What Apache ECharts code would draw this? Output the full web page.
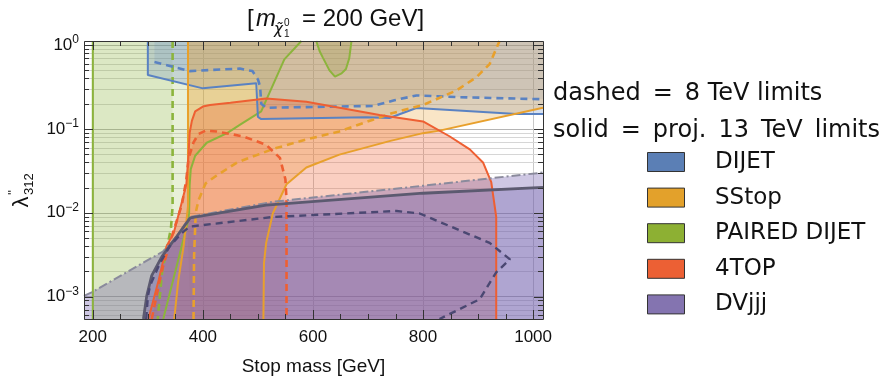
<!DOCTYPE html>
<html><head><meta charset="utf-8">
<script src="https://cdn.jsdelivr.net/npm/echarts@6/dist/echarts.min.js"></script>
<style>html,body{margin:0;padding:0;background:#fff}#c{width:886px;height:381px}</style>
</head><body><div id="c"></div>
<script>
// ---- axis ranges & ticks ----
const X_MIN = 184, X_MAX = 1018, Y_MIN = 5.4e-4, Y_MAX = 1.12;
const xMajorTicks = [200, 400, 600, 800, 1000];
const xMinorTicks = [250, 300, 350, 450, 500, 550, 650, 700, 750, 850, 900, 950];
const yMajorTicks = [1e-3, 1e-2, 1e-1, 1];
const yMinorMult = [2, 3, 4, 5, 6, 7, 8, 9];
const yMinorDecades = [1e-4, 1e-3, 1e-2, 1e-1];
const legendNames = ['DIJET', 'SStop', 'PAIRED DIJET', '4TOP', 'DVjjj'];

// ---- region boundaries (stop mass [GeV], lambda'') ----
const paired13Right = [[579,1.12],[548,0.676],[506,0.162],[467,0.112],[444,0.0891],[407,0.0684],[386,0.0479],[378,0.0331],[376,0.0214],[375,0.01],[373,0.0079],[350,0.002],[328,5.4e-4]];
const paired13Lobe = [[606,1.12],[612,0.85],[618,0.71],[630,0.5],[640,0.42],[652,0.46],[660,0.52],[666,0.7],[670,1.12]];
const paired8Right = [[345,1.12],[345,0.012],[342,0.0065],[334,0.0036],[326,0.002],[318,5.4e-4]];
const pairedLeft = [[200,5.4e-4],[200,1.12]];

const dijet13 = [[300,1.12],[300,0.44],[400,0.305],[497,0.352],[500,0.35],[500,0.139],[506,0.131],[697,0.138],[739,0.135],[788,0.178],[970,0.151],[1018,0.151]];
const dijet8 = [[312,0.63],[376,0.49],[467,0.525],[490,0.49],[500,0.39],[504,0.32],[506,0.2],[515,0.179],[709,0.188],[748,0.22],[788,0.251],[860,0.24],[1018,0.226]];

const sstop13Left = [[373,1.12],[373,0.012],[365,0.004],[355,0.0015],[348,5.4e-4]];
const sstop13Right = [[510,5.4e-4],[511,0.0025],[515,0.00437],[527,0.0098],[552,0.0219],[588,0.0347],[648,0.0494],[739,0.0716],[800,0.0891],[830,0.0955],[1018,0.179]];
const sstop8Left = [[371,1.12],[371,0.01],[378,5.4e-4]];
const sstop8Right = [[383,5.4e-4],[384,0.003],[387,0.01],[392,0.0141],[405,0.0224],[425,0.0278],[462,0.0398],[527,0.0575],[588,0.075],[648,0.0933],[709,0.129],[745,0.155],[800,0.193],[861,0.288],[897,0.414],[921,0.593],[939,1.12]];

const top13 = [[301,5.4e-4],[320,0.0016],[334,0.004],[347,0.00575],[358,0.0107],[370,0.0219],[374,0.05],[376,0.09],[380,0.125],[386,0.162],[400,0.185],[413,0.193],[450,0.205],[515,0.231],[588,0.211],[721,0.147],[800,0.123],[848,0.0818],[885,0.0571],[909,0.0398],[924,0.0232],[933,0.0089],[933,5.4e-4]];
const top8 = [[307,5.4e-4],[325,0.002],[345,0.0056],[362,0.0126],[370,0.025],[374,0.0447],[383,0.069],[392,0.087],[405,0.0955],[425,0.0933],[474,0.0813],[515,0.0646],[540,0.0452],[550,0.025],[552,0.0141],[552,5.4e-4]];

const dv13 = [[292,5.4e-4],[298,0.00102],[307,0.00178],[325.5,0.003],[352.7,0.00525],[377,0.0087],[515,0.0123],[800,0.0171],[1018,0.0201]];
const dvAlt = [[184,0.00102],[201,0.00115],[328,0.00347],[353,0.00525],[376,0.0089],[527,0.0135],[800,0.021],[1018,0.0302]];
const dv8 = [[297,5.4e-4],[300,0.001],[304,0.00135],[322,0.00251],[340,0.004],[360,0.0056],[376,0.00684],[527,0.0089],[752,0.0105],[794,0.0098],[921,0.00437],[958,0.00278],[933,0.00195],[903,0.00093],[830,5.4e-4]];

// ---- colours ----
const C = {
  blue: '#5a82c2', orange: '#e8a02c', green: '#8cb43c', red: '#ee5f32',
  dvSolid: '#5c5a70', dvDash: '#4b4872', dvAlt: '#8a8a9c'
};
const FONT = 'Liberation Sans, Arial, sans-serif';
const NFONT = 'DejaVu Sans, sans-serif';

function fill(points, color) {
  return {
    type: 'custom', coordinateSystem: 'cartesian2d', silent: true, clip: true,
    data: [[600, 0.01]],
    renderItem: (params, api) => ({
      type: 'polygon',
      shape: { points: points.map(p => api.coord(p)) },
      style: { fill: color, stroke: null }
    })
  };
}
function line(points, color, width, type) {
  return {
    type: 'line', data: points, showSymbol: false, symbol: 'none', silent: true, clip: true,
    lineStyle: { color: color, width: width, type: type || 'solid', cap: 'butt' }
  };
}
const DASH = [7, 5];

const minorVals = [];
yMinorDecades.forEach(d => yMinorMult.forEach(k => { const v = k * d; if (v > Y_MIN && v < Y_MAX) minorVals.push(v); }));

const series = [
  {
    type: 'custom', coordinateSystem: 'cartesian2d', silent: true, data: [[600, 0.01]],
    renderItem: (params, api) => {
      const cs = params.coordSys;
      return { type: 'group', children: minorVals.map(v => {
        const y = Math.round(api.coord([X_MIN, v])[1]) + 0.5;
        return { type: 'line', shape: { x1: cs.x, y1: y, x2: cs.x + cs.width, y2: y }, style: { stroke: '#d6d6d6', lineWidth: 1 } };
      }) };
    }
  },
  fill([...pairedLeft, ...paired13Right], 'rgba(141,180,58,0.20)'),
  fill(paired13Lobe, 'rgba(141,180,58,0.30)'),
  fill([...pairedLeft, ...paired8Right], 'rgba(141,180,58,0.12)'),
  fill([...dijet13, [X_MAX, Y_MAX]], 'rgba(90,130,194,0.24)'),
  fill([[312, Y_MAX], ...dijet8, [X_MAX, Y_MAX]], 'rgba(90,130,194,0.15)'),
  fill([...sstop13Left, ...sstop13Right, [X_MAX, Y_MAX]], 'rgba(232,160,44,0.27)'),
  fill([...sstop8Left, ...sstop8Right], 'rgba(232,160,44,0.15)'),
  fill(top13, 'rgba(238,95,50,0.30)'),
  fill(top8, 'rgba(238,95,50,0.16)'),
  line(pairedLeft, C.green, 2),
  line(paired13Right, C.green, 2),
  line(paired13Lobe, C.green, 2),
  line(paired8Right, C.green, 2.6, DASH),
  line(dijet13, C.blue, 2),
  line(dijet8, C.blue, 2.6, DASH),
  line(sstop13Left, C.orange, 2),
  line(sstop13Right, C.orange, 2),
  line(sstop8Right, C.orange, 2.6, DASH),
  line(top13, C.red, 2),
  line(top8, C.red, 2.6, DASH),
  fill([[X_MIN, Y_MIN], ...dvAlt, [X_MAX, Y_MIN]], 'rgba(110,92,172,0.34)'),
  fill([...dv13, [X_MAX, Y_MIN]], 'rgba(110,92,172,0.32)'),
  fill(dv8, 'rgba(110,92,172,0.10)'),
  line(dvAlt, C.dvAlt, 2, [9, 3, 2, 3]),
  line(dv13, C.dvSolid, 2.8),
  line(dv8, C.dvDash, 2.4, DASH),
  {
    type: 'custom', coordinateSystem: 'cartesian2d', silent: true, z: 20, clip: false, data: [[600, 0.01]],
    renderItem: (params, api) => {
      const cs = params.coordSys;
      const L = cs.x, R = cs.x + cs.width, T = cs.y, B = cs.y + cs.height;
      const st = { stroke: '#333', lineWidth: 1 };
      const ch = [];
      const xt = (v, len) => {
        const x = Math.round(api.coord([v, Y_MIN])[0]) + 0.5;
        ch.push({ type: 'line', shape: { x1: x, y1: B, x2: x, y2: B - len }, style: st });
        ch.push({ type: 'line', shape: { x1: x, y1: T, x2: x, y2: T + len }, style: st });
      };
      const yt = (v, len) => {
        const y = Math.round(api.coord([X_MIN, v])[1]) + 0.5;
        ch.push({ type: 'line', shape: { x1: L, y1: y, x2: L + len, y2: y }, style: st });
        ch.push({ type: 'line', shape: { x1: R, y1: y, x2: R - len, y2: y }, style: st });
      };
      xMajorTicks.forEach(v => xt(v, 9));
      xMinorTicks.forEach(v => xt(v, 5));
      yMajorTicks.forEach(v => yt(v, 9));
      minorVals.forEach(v => yt(v, 5));
      ch.push({ type: 'rect', shape: { x: Math.round(L) + 0.5, y: Math.round(T) + 0.5, width: Math.round(cs.width), height: Math.round(cs.height) }, style: { fill: null, stroke: '#333', lineWidth: 1 } });
      return { type: 'group', children: ch };
    }
  }
];

const legendColors = ['#5b7fb5', '#e3a12b', '#8db033', '#ec6034', '#8474b0'];
const graphic = [];
legendNames.forEach((n, i) => {
  const y = 152 + i * 35.6;
  graphic.push({ type: 'rect', shape: { x: 647.5, y: y + 0.5, width: 37, height: 19 }, style: { fill: legendColors[i], stroke: '#333', lineWidth: 1 } });
  graphic.push({ type: 'text', x: 715, y: y + 10, style: { text: n, font: '23px ' + NFONT, fill: '#111', align: 'left', verticalAlign: 'middle' } });
});
graphic.push({ type: 'text', x: 553, y: 94, style: { text: 'dashed\u2002=\u20028 TeV limits', font: '24px ' + NFONT, fill: '#111', align: 'left', verticalAlign: 'middle' } });
graphic.push({ type: 'text', x: 553, y: 131, style: { text: 'solid\u2002=\u2002proj.\u200213\u2002TeV\u2002limits', font: '24px ' + NFONT, fill: '#111', align: 'left', verticalAlign: 'middle' } });
graphic.push({ type: 'text', x: 247, y: 19, style: { text: '[', font: '24px ' + FONT, fill: '#111', verticalAlign: 'middle' } });
graphic.push({ type: 'text', x: 256, y: 19, style: { text: 'm', font: 'italic 24px ' + FONT, fill: '#111', verticalAlign: 'middle' } });
graphic.push({ type: 'text', x: 274, y: 30, style: { text: 'χ\u0303', font: 'italic 15px DejaVu Sans, sans-serif', fill: '#111', verticalAlign: 'middle' } });
graphic.push({ type: 'text', x: 284, y: 23, style: { text: '0', font: '10px ' + FONT, fill: '#111', verticalAlign: 'middle' } });
graphic.push({ type: 'text', x: 284, y: 34, style: { text: '1', font: '10px ' + FONT, fill: '#111', verticalAlign: 'middle' } });
graphic.push({ type: 'text', x: 302, y: 19, style: { text: '= 200 GeV]', font: '24px ' + FONT, fill: '#111', verticalAlign: 'middle' } });
graphic.push({
  type: 'group', x: 22, y: 202, rotation: Math.PI / 2,
  children: [
    { type: 'text', x: 0, y: 0, style: { text: 'λ', font: '22px ' + FONT, fill: '#111', align: 'center', verticalAlign: 'middle' } },
    { type: 'text', x: 7, y: -9, style: { text: "''", font: '13px ' + FONT, fill: '#111', align: 'left', verticalAlign: 'middle' } },
    { type: 'text', x: 7, y: 7, style: { text: '312', font: '13px ' + FONT, fill: '#111', align: 'left', verticalAlign: 'middle' } }
  ]
});

const chart = echarts.init(document.getElementById('c'), null, { renderer: 'canvas' });
chart.setOption({
  animation: false,
  backgroundColor: '#fff',
  grid: { left: 84, right: 343, top: 41, bottom: 57, containLabel: false },
  xAxis: {
    type: 'value', min: X_MIN, max: X_MAX,
    name: 'Stop mass [GeV]', nameLocation: 'middle', nameGap: 38,
    nameTextStyle: { fontSize: 19, color: '#111', fontFamily: FONT },
    axisLine: { show: false }, axisTick: { show: false },
    axisLabel: { fontSize: 17, color: '#111', margin: 10, fontFamily: FONT,
      formatter: v => (xMajorTicks.indexOf(v) >= 0 ? String(v) : '') },
    splitLine: { show: true, lineStyle: { color: '#c8c8c8', width: 1 } }
  },
  yAxis: {
    type: 'log', logBase: 10, min: Y_MIN, max: Y_MAX,
    axisLine: { show: false }, axisTick: { show: false },
    axisLabel: {
      margin: 5, fontFamily: FONT, color: '#111',
      formatter: v => {
        const e = Math.log10(v), r = Math.round(e);
        if (Math.abs(e - r) > 1e-6) return '';
        return '{b|10}{s|' + (r === 0 ? '0' : '\u2212' + (-r)) + '}';
      },
      rich: {
        b: { fontSize: 17, lineHeight: 22, fontFamily: FONT, color: '#111' },
        s: { fontSize: 12, lineHeight: 12, verticalAlign: 'top', fontFamily: FONT, color: '#111' }
      }
    },
    splitLine: { show: true, lineStyle: { color: '#b4b4b4', width: 1 } }
  },
  series: series,
  graphic: graphic
});
</script>
</body></html>
